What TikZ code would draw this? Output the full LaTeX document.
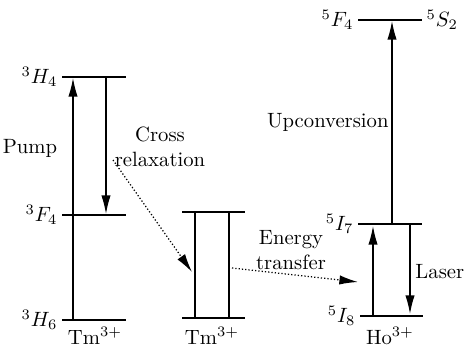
\documentclass[tikz,border=0pt]{standalone}
\usepackage{amsmath,amssymb}
\usetikzlibrary{arrows.meta}
\usetikzlibrary{positioning}

\begin{document}
\begin{tikzpicture}[>={Latex[length=9pt,width=4.5pt]}, x=0.017cm, y=-0.017cm,
		level/.style={line width=0.7pt},
		trans/.style={->, line width=0.6pt},
		transfer/.style={->, densely dotted, line width=0.6pt},
		term/.style={left, inner sep=2pt}]
		\useasboundingbox (0,0) rectangle (464,347);
		% Tm (donor)
		\draw[level] (62,77) coordinate (a3H4l) -- (126,77) coordinate (a3H4r);
		\draw[level] (62,215) coordinate (a3F4l) -- (126,215) coordinate (a3F4r);
		\draw[level] (62,320) coordinate (a3H6l) -- (126,320) coordinate (a3H6r);
		\node[term] (H4) at (a3H4l) {$^3H_4$};
		\node[term] (F4) at (a3F4l) {$^3F_4$};
		\node[term] (H6) at (a3H6l) {$^3H_6$};
		\node (Tm1) at (95,336) {Tm$^{3+}$};
		\coordinate (p0) at (73,320);
		\coordinate (p1) at (73,78);
		\coordinate (c0) at (106,77);
		\coordinate (c1) at (106,214);
		\draw[trans] (p0) -- (p1);
		\draw[trans] (c0) -- (c1);
		\node (pump) at (30,148) {Pump};
		% Tm (acceptor)
		\draw[level] (182,212) coordinate (b3F4l) -- (245,212) coordinate (b3F4r);
		\draw[level] (182,318) coordinate (b3H6l) -- (245,318) coordinate (b3H6r);
		\draw[line width=0.6pt] (195,212) -- (195,318);
		\draw[line width=0.6pt] (229,212) -- (229,318);
		\node (Tm2) at (212,336) {Tm$^{3+}$};
		\node[align=center, inner sep=1pt] (cross) at (160,147) {Cross\\relaxation};
		\coordinate (x0) at (113,160);
		\coordinate (x1) at (192,272);
		\draw[transfer] (x0) -- (x1);
		% Ho
		\draw[level] (358,20) coordinate (h5F4l) -- (422,20) coordinate (h5F4r);
		\draw[level] (358,224) coordinate (h5I7l) -- (422,224) coordinate (h5I7r);
		\draw[level] (360,316) coordinate (h5I8l) -- (423,316) coordinate (h5I8r);
		\node[term] (F4Ho) at (h5F4l) {$^5F_4$};
		\node[right, inner sep=2pt] (S2Ho) at (h5F4r) {$^5S_2$};
		\node[term] (I7) at (h5I7l) {$^5I_7$};
		\node[term] (I8) at (h5I8l) {$^5I_8$};
		\node (Ho) at (390,336) {Ho$^{3+}$};
		\coordinate (u0) at (392,224);
		\coordinate (u1) at (392,21);
		\coordinate (e0) at (373,316);
		\coordinate (e1) at (373,226);
		\coordinate (l0) at (410,225);
		\coordinate (l1) at (410,314);
		\draw[trans] (u0) -- (u1);
		\draw[trans] (e0) -- (e1);
		\draw[trans] (l0) -- (l1);
		\node[left, inner sep=1pt] (upc) at (391,122) {Upconversion};
		\node[right, inner sep=1pt] (laser) at (413,272) {Laser};
		\node[align=center, inner sep=1pt] (energy) at (291,250) {Energy\\transfer};
		\coordinate (t0) at (232,268);
		\coordinate (t1) at (358,282);
		\draw[transfer] (t0) -- (t1);
	\end{tikzpicture}
\end{document}
